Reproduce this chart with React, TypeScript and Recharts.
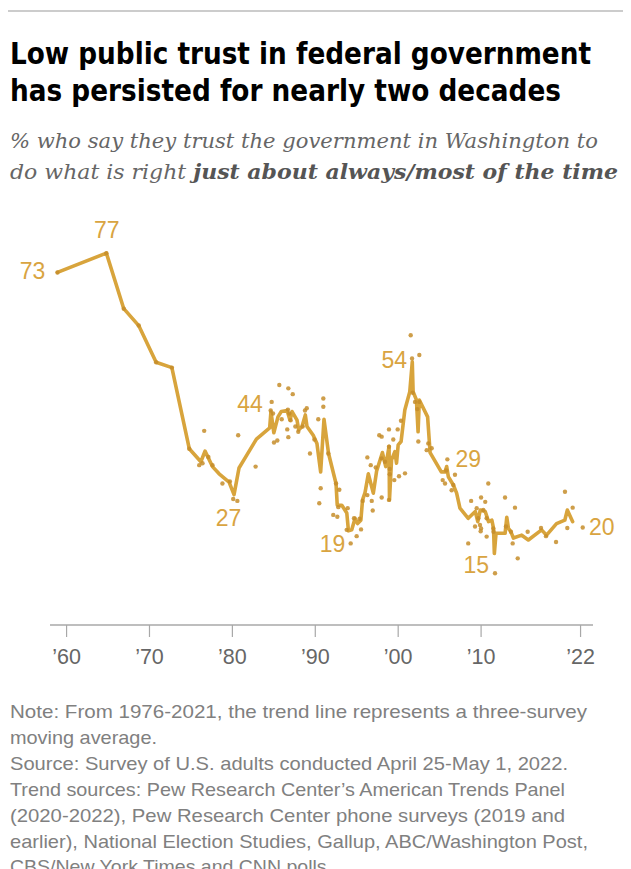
import React from 'react';
import { ComposedChart, Line, Scatter, XAxis, YAxis } from 'recharts';

// Trend line (three-survey moving average from 1976)
const trendYears = [
  1958.9, 1964.8, 1966.9, 1968.7, 1970.8, 1972.7, 1974.8, 1976.2, 1976.7, 1977.6,
  1978.4, 1979.6, 1980.2, 1980.8, 1981.5, 1982.9, 1984.5, 1984.65, 1985.0, 1985.5,
  1985.9, 1986.6, 1986.95, 1987.2, 1987.8, 1988.0, 1988.4, 1988.8, 1989.0, 1989.75,
  1990.2, 1990.65, 1991.05, 1991.6, 1992.5, 1992.65, 1993.2, 1993.8, 1994.0, 1994.4,
  1994.8, 1995.1, 1995.5, 1995.7, 1996.0, 1996.4, 1996.7, 1997.0, 1997.4, 1998.1,
  1998.5, 1998.9, 1998.95, 1999.2, 1999.6, 1999.8, 2000.0, 2000.35, 2000.8, 2001.4,
  2001.7, 2001.8, 2002.2, 2002.4, 2002.55, 2003.55, 2003.85, 2005.2, 2005.65, 2005.85,
  2006.05, 2006.65, 2007.05, 2007.45, 2008.45, 2009.3, 2009.6, 2009.9, 2010.5, 2010.9,
  2011.3, 2011.5, 2011.6, 2011.8, 2012.9, 2013.1, 2013.3, 2013.6, 2013.9, 2014.9,
  2015.7, 2017.3, 2017.9, 2019.1, 2020.1, 2020.4, 2021.05,
];
const trendValues = [
  73, 77, 65.5, 62, 54.4, 53.3, 36.5, 33.8, 36, 32.8,
  31.3, 29.6, 27, 32.5, 34.5, 38.5, 40.8, 44.2, 39.8, 43.1,
  44.2, 44.4, 42.4, 44.2, 42.4, 40.4, 41.1, 43.5, 41.1, 39.3,
  37.6, 31.7, 42.6, 35.5, 29.3, 24.8, 24.8, 23.2, 19.5, 19.7,
  22.1, 21, 21.7, 25.9, 27.4, 31.3, 29.3, 27.3, 31.9, 35.7,
  32.8, 37, 25.9, 34.2, 35.9, 33.5, 37.3, 38, 44.5, 48.3,
  54.5, 48.3, 46.6, 40, 46.6, 43.1, 35.7, 31.7, 31.7, 32.8,
  30.7, 29, 27.3, 24.2, 22.1, 23.5, 21.4, 23.8, 23.5, 21.4,
  21.7, 20, 14.8, 19, 19, 22.3, 20, 19.3, 18, 18.6,
  17.6, 19.7, 18.6, 21, 21.7, 23.8, 21.4,
];

// Individual surveys
const pollYears = [
  1958.9, 1964.8, 1966.9, 1968.7, 1970.8, 1972.7, 1974.8,
  1976.0, 1976.4, 1976.6, 1977.1, 1977.6, 1978.8, 1979.7, 1980.1, 1980.6, 1980.7, 1982.8,
  1984.62, 1984.74, 1984.9, 1985.02, 1985.42, 1985.66, 1985.95, 1986.62, 1986.75, 1986.75,
  1986.87, 1986.7, 1987.03, 1987.28, 1987.6, 1987.95, 1988.48, 1988.76, 1988.97, 1989.36,
  1989.9, 1990.36, 1990.48, 1990.65, 1990.97, 1990.97, 1991.57,
  1992.17, 1992.5, 1992.66, 1992.78, 1992.9, 1993.79, 1993.91, 1994.27, 1994.67, 1994.99,
  1995.35, 1995.52, 1995.72, 1996.28,
  1996.28, 1996.69, 1996.81, 1996.93, 1997.29, 1997.72, 1998.01, 1998.01, 1998.0, 1998.41,
  1998.89, 1998.89, 1998.98, 1998.98, 1998.89, 1999.41, 1999.53, 1999.94, 2000.1, 2000.34,
  2000.82,
  2001.51, 2001.67, 2002.55, 2001.75, 2002.03, 2002.55, 2002.31, 2002.43, 2003.44, 2003.63,
  2004.04, 2005.37, 2005.65, 2005.93, 2005.8,
  2006.45, 2006.65, 2006.85, 2008.45, 2008.8, 2009.27, 2009.47, 2009.67, 2009.87, 2010.0,
  2010.0, 2010.27, 2010.5, 2010.67, 2010.67, 2010.87, 2011.47, 2011.5, 2011.68, 2009.95,
  2012.89, 2013.0, 2013.6, 2013.81, 2014.09, 2014.42, 2015.62, 2017.23, 2017.83, 2019.04,
  2020.12, 2020.4, 2021.05, 2022.26,
];
const pollValues = [
  73, 77, 65.5, 62, 54.4, 53.3, 36.5,
  33.1, 33.5, 40.2, 34.8, 33.1, 29.3, 29.7, 26.1, 25.7, 39.3, 32.8,
  44.4, 46.2, 43.8, 37.8, 38.2, 49.7, 42.6, 40.5, 38.9, 49.0,
  43.8, 44.6, 42.4, 47.8, 41.1, 40.0, 41.1, 44.4, 44.9, 35.5,
  38.4, 42.6, 25.2, 28.3, 46.9, 45.2, 35.5,
  22.8, 29.3, 22.4, 24.4, 28.0, 19.7, 24.2, 16.9, 22.1, 18.4,
  22.0, 19.8, 25.7, 26.9,
  34.7, 33.1, 25.7, 23.7, 32.6, 39.3, 39.0, 26.4, 34.5, 33.8,
  40.5, 36.9, 32.3, 31.2, 25.9, 38.4, 30.0, 40.5, 30.8, 42.3,
  31.4,
  60.0, 55.2, 55.9, 48.1, 46.2, 46.2, 44.7, 38.0, 36.2, 37.6,
  36.6, 30.0, 29.3, 34.3, 32.0,
  27.9, 29.0, 31.1, 16.9, 25.7, 20.4, 24.2, 22.1, 20.7, 26.4,
  20.0, 23.8, 25.5, 22.1, 18.3, 29.3, 20.0, 19.3, 10.7, 19.4,
  26.4, 20.4, 19.3, 16.9, 24.3, 13.8, 19.3, 20.1, 18.4, 17.2,
  27.6, 20.1, 24.3, 20.2,
];

// Value annotations
const labelTexts = ['73', '77', '44', '27', '19', '54', '29', '15', '20'];
const labelYears = [1958.9, 1964.8, 1984.65, 1980.2, 1994.0, 2001.7, 2006.65, 2011.6, 2022.26];
const labelValues = [73, 77, 44.2, 27, 19.5, 54.5, 29, 14.8, 20.2];

const tickYears = [1960, 1970, 1980, 1990, 2000, 2010, 2022];

const footerLines = [
  'Note: From 1976-2021, the trend line represents a three-survey',
  'moving average.',
  'Source: Survey of U.S. adults conducted April 25-May 1, 2022.',
  'Trend sources: Pew Research Center\u2019s American Trends Panel',
  '(2020-2022), Pew Research Center phone surveys (2019 and',
  'earlier), National Election Studies, Gallup, ABC/Washington Post,',
  'CBS/New York Times and CNN polls.',
];

// ---- styling / layout constants ----
const GOLD = '#D8A43C';
const DOT = '#C68D2A';
const LABEL_OFFSET: Record<string, [number, number]> = {
  '73': [-25, -1],
  '77': [0.5, -23],
  '44': [-21, -8],
  '27': [-5.5, 23],
  '19': [-16, 13],
  '54': [-18, -2],
  '29': [15, -26],
  '15': [-18, 11.5],
  '20': [19, 0],
};
const footerWidths = [577, 147, 558, 555, 555, 578, 322];
const NARROW = "'Liberation Sans Narrow', 'DejaVu Sans Condensed', 'Roboto Condensed', 'Liberation Sans', sans-serif";
const SANS = "'Liberation Sans', Arial, Helvetica, sans-serif";
const SERIF = "'DejaVu Serif', Georgia, 'Liberation Serif', serif";

const trendData = trendYears.map((year, i) => ({ year, value: trendValues[i] }));
const pollData = pollYears.map((year, i) => ({ year, value: pollValues[i] }));
const labelData = labelYears.map((year, i) => ({ year, value: labelValues[i], text: labelTexts[i] }));

const DotShape = (p: any) => {
  if (p.cx == null || p.cy == null) return <g />;
  return <circle cx={p.cx} cy={p.cy} r={2.2} fill={DOT} fillOpacity={0.85} />;
};

const LabelShape = (p: any) => {
  if (p.cx == null || p.cy == null) return <g />;
  const t = p.payload.text;
  const [dx, dy] = LABEL_OFFSET[t] || [0, 0];
  return (
    <text
      x={p.cx + dx}
      y={p.cy + dy}
      textAnchor="middle"
      dominantBaseline="central"
      fontFamily={SANS}
      fontSize={23}
      fill="#D9A441"
    >
      {t}
    </text>
  );
};

export default function App() {
  return (
    <div style={{ position: 'absolute', left: 0, top: 0, width: 631, height: 869, overflow: 'hidden', background: '#fff' }}>
      <div style={{ position: 'absolute', left: 0, top: 0 }}>
        <ComposedChart width={631} height={700} margin={{ top: 200, right: 38, bottom: 35, left: 50 }}>
          <XAxis
            dataKey="year"
            type="number"
            domain={[1958, 2023.5]}
            ticks={tickYears}
            tickFormatter={(y: number) => '\u2019' + String(y).slice(2)}
            height={40}
            tickSize={12}
            tickMargin={12}
            axisLine={{ stroke: '#a8a8a8', strokeWidth: 1.5 }}
            tickLine={{ stroke: '#a8a8a8', strokeWidth: 1.2 }}
            tick={{ fill: '#666666', fontSize: 21.5, fontFamily: SANS }}
          />
          <YAxis type="number" domain={[0, 88]} hide />
          <Line
            data={trendData}
            dataKey="value"
            type="linear"
            stroke={GOLD}
            strokeWidth={3.6}
            strokeLinejoin="round"
            strokeLinecap="round"
            dot={false}
            activeDot={false}
            isAnimationActive={false}
          />
          <Scatter data={pollData} dataKey="value" shape={DotShape} isAnimationActive={false} />
          <Scatter data={labelData} dataKey="value" shape={LabelShape} isAnimationActive={false} />
        </ComposedChart>
      </div>
      <svg width={631} height={869} style={{ position: 'absolute', left: 0, top: 0, pointerEvents: 'none' }}>
        <line x1={8} x2={623} y1={11} y2={11} stroke="#cccccc" strokeWidth={2} />
        <text x={10} y={63.5} fontFamily={NARROW} fontWeight={700} fontSize={30} fill="#000" textLength={581} lengthAdjust="spacingAndGlyphs">
          Low public trust in federal government
        </text>
        <text x={10} y={101} fontFamily={NARROW} fontWeight={700} fontSize={30} fill="#000" textLength={551} lengthAdjust="spacingAndGlyphs">
          has persisted for nearly two decades
        </text>
        <text x={10} y={148} fontFamily={SERIF} fontStyle="italic" fontSize={21} fill="#666666" textLength={588} lengthAdjust="spacingAndGlyphs">
          % who say they trust the government in Washington to
        </text>
        <text x={10} y={178.5} fontFamily={SERIF} fontStyle="italic" fontSize={21} fill="#666666" textLength={608} lengthAdjust="spacingAndGlyphs">
          do what is right <tspan fontWeight={700} fill="#555555">just about always/most of the time</tspan>
        </text>
        {footerLines.map((line, i) => (
          <text
            key={i}
            x={10}
            y={718 + i * 25.9}
            fontFamily={SANS}
            fontSize={18.5}
            fill="#808080"
            textLength={footerWidths[i]}
            lengthAdjust="spacingAndGlyphs"
          >
            {line}
          </text>
        ))}
      </svg>
    </div>
  );
}
